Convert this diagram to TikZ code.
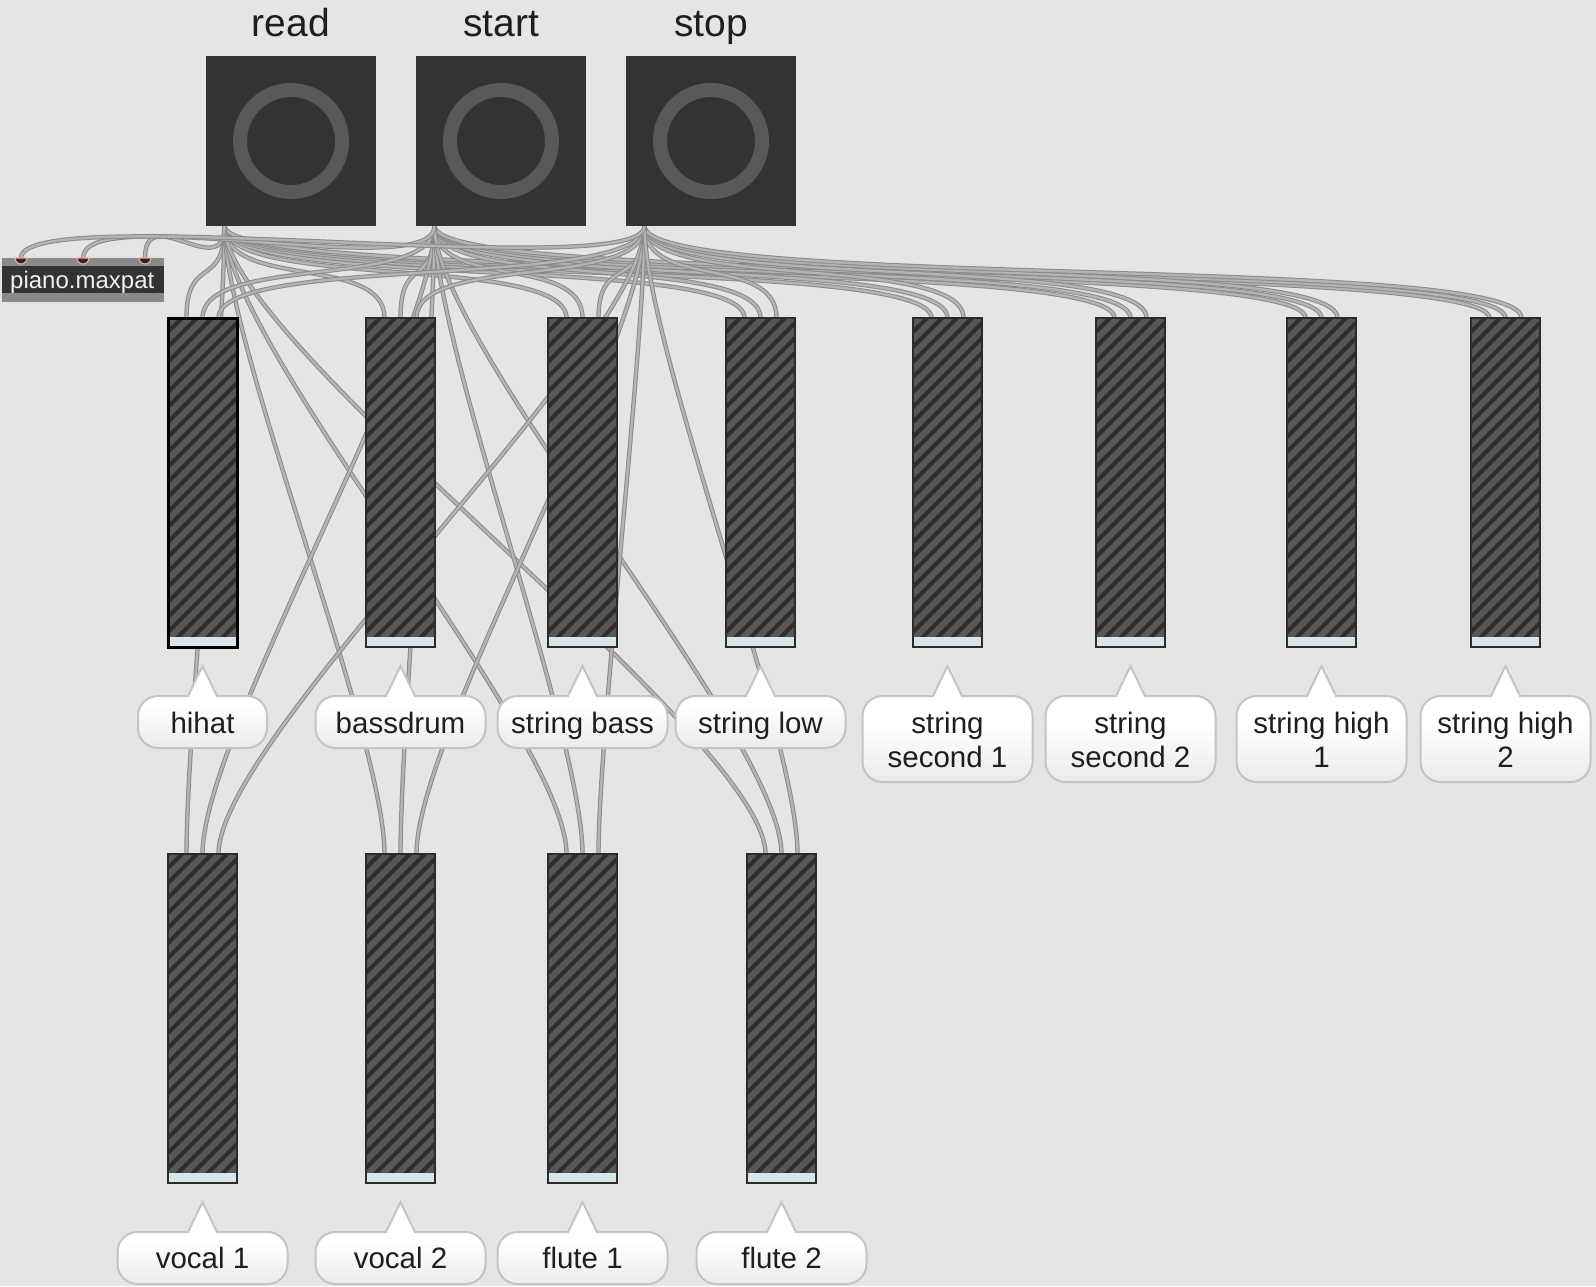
\documentclass[tikz,border=0pt]{standalone}
\usepackage{fontspec}
\setmainfont{Liberation Sans}
\usetikzlibrary{calc}
\pgfdeclarelayer{bglayer}
\pgfdeclarelayer{cordlayer}
\pgfsetlayers{bglayer,cordlayer,main}
\definecolor{bgc}{HTML}{E5E5E5}
\definecolor{btnc}{HTML}{333333}
\definecolor{ringc}{HTML}{595959}
\definecolor{sliderfill}{HTML}{575757}
\definecolor{hatchc}{HTML}{2E2E2E}
\definecolor{sliderbd}{HTML}{2B2B2B}
\definecolor{stripc}{HTML}{D6E6EA}
\definecolor{cordout}{HTML}{8A8A8A}
\definecolor{cordin}{HTML}{B4B4B4}
\definecolor{bubbd}{HTML}{C4C4C4}
\definecolor{bubbot}{HTML}{EAEAEA}
\definecolor{txt}{HTML}{1E1E1E}
\definecolor{pbar}{HTML}{8A8A8A}
\definecolor{salmon}{HTML}{F2A48E}
\definecolor{inletc}{HTML}{2A2A2A}

\newcommand\mkslider[4][slider]{%
  \node[#1] (#2) at (#3,-#4) {};
  \coordinate (#2-1) at ([xshift=18.5pt]#2.north west);
  \coordinate (#2-2) at ([xshift=34.5pt]#2.north west);
  \coordinate (#2-3) at ([xshift=50.5pt]#2.north west);
}
\newcommand\mkbutton[3]{%
  \node[btn] (#1) at (#2,-141) {};
  \draw[ring] (#1.center) circle[radius=51];
  \coordinate (#1-out) at ([xshift=18.5pt]#1.south west);
  \node[title] (#1-title) at (#2,-36) {#3};
}
\newcommand\bubble[4]{%
  \path[bubblestyle] (#1-#4,-#2-20) arc[start angle=180,end angle=90,radius=20]
    -- (#1-14.5,-#2) -- (#1,-#2+30) -- (#1+14.5,-#2)
    -- (#1+#4-20,-#2) arc[start angle=90,end angle=0,radius=20]
    -- (#1+#4,-#3+20) arc[start angle=0,end angle=-90,radius=20]
    -- (#1-#4+20,-#3) arc[start angle=270,end angle=180,radius=20] -- cycle;
}
\newcommand\patchcord[2]{%
  \draw[cord] let \p1=(#1), \p2=(#2), \n1={55+0.1*abs(\y1-(\y2))} in
    (#1) .. controls +(0,-\n1) and +(0,\n1) .. (#2);
}

\begin{document}
\begin{tikzpicture}[x=1pt,y=1pt,
  cord/.style={draw=cordout, double=cordin, line width=1pt, double distance=2.4pt},
  btn/.style={fill=btnc, minimum size=170pt, inner sep=0pt, outer sep=0pt},
  ring/.style={draw=ringc, line width=14pt},
  title/.style={anchor=base, inner sep=0pt, text=txt, font=\fontsize{39}{45}\selectfont},
  lbl/.style={anchor=base, inner sep=0pt, text=txt, font=\fontsize{29.5}{34}\selectfont},
  bubblestyle/.style={draw=bubbd, line width=2pt, top color=white, bottom color=bubbot, middle color=white},
  slider/.style={draw=sliderbd, line width=2.2pt, fill=sliderfill, minimum width=69pt,
    minimum height=329pt, inner sep=0pt, outer sep=0pt, anchor=north west,
    path picture={
      \foreach \k in {-23,...,5}
        \draw[hatchc, line width=4.2pt] ([xshift=\k*15pt]path picture bounding box.south west) -- ++(345,345);
      \fill[stripc] (path picture bounding box.south west) rectangle ([yshift=10pt]path picture bounding box.south east);
    }},
  selslider/.style={slider, draw=black, line width=3pt},
]
\begin{pgfonlayer}{bglayer}
  \fill[bgc] (0,0) rectangle (1596,-1286);
\end{pgfonlayer}
\useasboundingbox (0,0) rectangle (1596,-1286);

% buttons
\mkbutton{read}{291}{read}
\mkbutton{start}{501}{start}
\mkbutton{stop}{711}{stop}

% piano.maxpat
\node[fill=btnc, minimum width=162pt, minimum height=44pt, inner sep=0pt, outer sep=0pt, anchor=north west,
  path picture={
    \fill[pbar] (path picture bounding box.north west) rectangle ([yshift=-8pt]path picture bounding box.north east);
    \fill[pbar] (path picture bounding box.south west) rectangle ([yshift=9pt]path picture bounding box.south east);
  }] (piano) at (2,-258) {};
\node[anchor=base west, inner sep=0pt, text=white!94!black, font=\fontsize{24}{28}\selectfont] (pianotxt) at (10,-288) {piano.maxpat};
\foreach \k/\xx in {1/21,2/83,3/145}{
  \coordinate (piano-\k) at (\xx,-258);
  \filldraw[fill=inletc, draw=salmon, line width=1.2pt] (\xx-6,-258) arc[start angle=180,end angle=360,radius=6] -- cycle;
}

% sliders
\mkslider[selslider]{hihat}{168}{318}
\mkslider{bassdrum}{366}{318}
\mkslider{sbass}{548}{318}
\mkslider{slow}{726}{318}
\mkslider{ssec1}{913}{318}
\mkslider{ssec2}{1096}{318}
\mkslider{shigh1}{1287}{318}
\mkslider{shigh2}{1471}{318}
\mkslider{vocal1}{168}{854}
\mkslider{vocal2}{366}{854}
\mkslider{flute1}{548}{854}
\mkslider{flute2}{747}{854}

% labels
\bubble{202.5}{696}{748}{64.5}
\node[lbl] (l-hihat) at (202.5,-733) {hihat};
\bubble{400.5}{696}{748}{85}
\node[lbl] (l-bassdrum) at (400.5,-733) {bassdrum};
\bubble{582.5}{696}{748}{85}
\node[lbl] (l-sbass) at (582.5,-733) {string bass};
\bubble{760.5}{696}{748}{85}
\node[lbl] (l-slow) at (760.5,-733) {string low};
\bubble{947.5}{696}{782}{85}
\node[lbl] (l-ssec1a) at (947.5,-733) {string};
\node[lbl] (l-ssec1b) at (947.5,-767) {second 1};
\bubble{1130.5}{696}{782}{85}
\node[lbl] (l-ssec2a) at (1130.5,-733) {string};
\node[lbl] (l-ssec2b) at (1130.5,-767) {second 2};
\bubble{1321.5}{696}{782}{85}
\node[lbl] (l-shigh1a) at (1321.5,-733) {string high};
\node[lbl] (l-shigh1b) at (1321.5,-767) {1};
\bubble{1505.5}{696}{782}{85}
\node[lbl] (l-shigh2a) at (1505.5,-733) {string high};
\node[lbl] (l-shigh2b) at (1505.5,-767) {2};

\bubble{202.5}{1232}{1284}{85}
\node[lbl] (l-vocal1) at (202.5,-1268) {vocal 1};
\bubble{400.5}{1232}{1284}{85}
\node[lbl] (l-vocal2) at (400.5,-1268) {vocal 2};
\bubble{582.5}{1232}{1284}{85}
\node[lbl] (l-flute1) at (582.5,-1268) {flute 1};
\bubble{781.5}{1232}{1284}{85}
\node[lbl] (l-flute2) at (781.5,-1268) {flute 2};

% patch cords
\begin{pgfonlayer}{cordlayer}
\foreach \src/\idx in {read/1,start/2,stop/3}{
  \foreach \sld in {hihat,bassdrum,sbass,slow,ssec1,ssec2,shigh1,shigh2,vocal1,vocal2,flute1,flute2}{
    \patchcord{\src-out}{\sld-\idx}
  }
}
\patchcord{read-out}{piano-3}
\patchcord{start-out}{piano-2}
\patchcord{stop-out}{piano-1}
\end{pgfonlayer}
\end{tikzpicture}
\end{document}
